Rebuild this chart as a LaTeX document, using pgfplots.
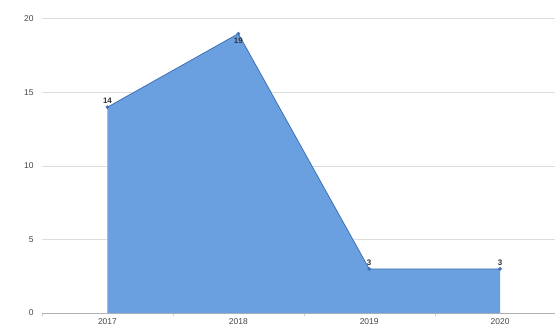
\documentclass[border=0pt]{standalone}
\usepackage{pgfplots}
\pgfplotsset{compat=1.18}
\usepackage{fontspec}
\setmainfont{Liberation Sans}
\definecolor{areafill}{HTML}{6A9FE0}
\definecolor{arealine}{HTML}{3F72B5}
\definecolor{gridgray}{HTML}{DDDDDD}
\definecolor{ticktext}{HTML}{444444}
\begin{document}
\begin{tikzpicture}[x=1bp,y=1bp]
\useasboundingbox (0,0) rectangle (555,334);
\begin{axis}[
  at={(42bp,21bp)}, anchor=south west,
  scale only axis,
  width=513bp, height=294bp,
  xmin=-0.5, xmax=3.42,
  ymin=0, ymax=20,
  axis lines*=left,
  y axis line style={draw=none},
  x axis line style={draw=gray!60, -},
  xtick={0,1,2,3},
  xticklabels={2017,2018,2019,2020},
  minor xtick={-0.5,0.5,1.5,2.5},
  major tick length=0pt,
  minor tick length=3bp,
  every minor tick/.style={draw=gray!40, yshift=-3bp},
  ytick={0,5,10,15,20},
  ytick style={draw=none},
  ymajorgrids,
  grid style={draw=gridgray, line width=1bp},
  tick label style={font=\fontsize{8.5}{10}\selectfont, text=ticktext},
  /pgf/number format/assume math mode=true,
  xticklabel style={yshift=-2bp},
  yticklabel style={xshift=-5bp},
  clip=false,
]
% filled area without an outline
\addplot[fill=areafill, draw=none, forget plot]
  coordinates {(0,14) (1,19) (2,3) (3,3)} \closedcycle;
% top edge with point markers
\addplot[draw=arealine, line width=0.8bp,
  mark=*, mark size=1.4bp, mark options={fill=arealine, draw=arealine}]
  coordinates {(0,14) (1,19) (2,3) (3,3)};
% value labels
\node[font=\fontsize{8}{9}\selectfont\bfseries, text=black!80, anchor=south] at (axis cs:0,14) {14};
\node[font=\fontsize{8}{9}\selectfont\bfseries, text=black!80, anchor=north] at (axis cs:1,19) [yshift=-1bp] {19};
\node[font=\fontsize{8}{9}\selectfont\bfseries, text=black!80, anchor=south] at (axis cs:2,3) {3};
\node[font=\fontsize{8}{9}\selectfont\bfseries, text=black!80, anchor=south] at (axis cs:3,3) {3};
\end{axis}
\end{tikzpicture}
\end{document}
